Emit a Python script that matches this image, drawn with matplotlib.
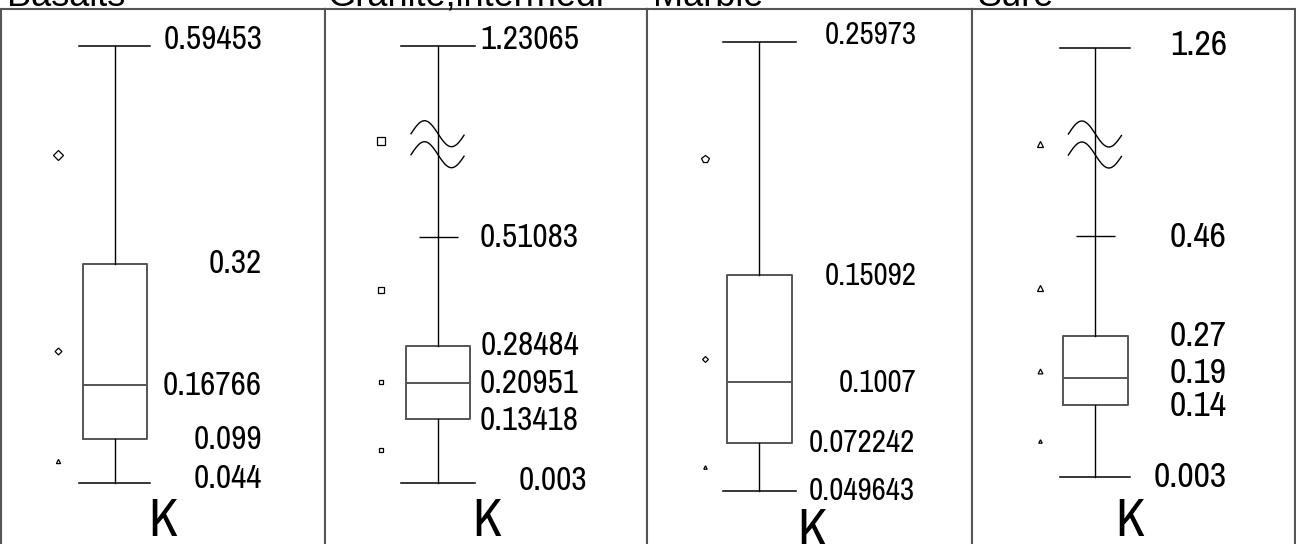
import matplotlib
matplotlib.use('Agg')
import matplotlib.pyplot as plt
import matplotlib.transforms as mtransforms
from matplotlib import font_manager
import numpy as np

# ---- data ----
titles = ['Basalts', 'Granite,intermedi', 'Marble', 'Sure']
xlabel = 'K'

basalt_box = dict(whislo=0.044, q1=0.099, med=0.16766, q3=0.32, whishi=0.59453)
basalt_fliers = [0.4572, 0.2103, 0.0717]
basalt_labels = ['0.59453', '0.32', '0.16766', '0.099', '0.044']

granite_box = dict(whislo=0.003, q1=0.13418, med=0.20951, q3=0.28484, whishi=1.23065)
granite_mid = 0.51083
granite_fliers = [0.763, 0.4014, 0.2115, 0.0711]
granite_labels = ['1.23065', '0.51083', '0.28484', '0.20951', '0.13418', '0.003']

marble_box = dict(whislo=0.049643, q1=0.072242, med=0.1007, q3=0.15092, whishi=0.25973)
marble_fliers = [0.205, 0.1114, 0.0609]
marble_labels = ['0.25973', '0.15092', '0.1007', '0.072242', '0.049643']

sure_box = dict(whislo=0.003, q1=0.14, med=0.19, q3=0.27, whishi=1.26)
sure_mid = 0.46
sure_fliers = [0.714, 0.3614, 0.204, 0.0713]
sure_labels = ['1.26', '0.46', '0.27', '0.19', '0.14', '0.003']

# narrow font if there is one, else plain Liberation Sans a bit smaller
have = {f.name for f in font_manager.fontManager.ttflist}
NARROW, nscale = 'Liberation Sans', 0.82
for cand in ('Liberation Sans Narrow', 'Arial Narrow', 'Archivo Narrow'):
    if cand in have:
        NARROW, nscale = cand, 1.1
        break
REG = ['Liberation Sans', 'DejaVu Sans']


def break_scale(lo, k):
    # compress everything above lo by factor k (axis break)
    def fwd(v):
        v = np.asarray(v, dtype=float)
        return np.where(v <= lo, v, lo + (v - lo) * k)

    def inv(t):
        t = np.asarray(t, dtype=float)
        return np.where(t <= lo, t, lo + (t - lo) / k)
    return fwd, inv


fig = plt.figure(figsize=(12.96, 5.44), dpi=100)
W, H = 1296.0, 544.0
top_px = 9

panels = [
    dict(box=basalt_box, mid=None, fliers=basalt_fliers, labels=basalt_labels,
         x0=1, x1=325, ylim=(-0.0328, 0.6411), brk=None,
         cx=0.351, bw=0.197, cw=0.218, fx=0.175, lx=0.806, fs=21.8,
         marks=[('D', 5.5), ('D', 3.5), ('^', 3.0)],
         offs=[(0, 6), (0, 0), (0, -1), (0, -1), (0, 4)], kx=0.50, ky=0.015),
    dict(box=granite_box, mid=granite_mid, fliers=granite_fliers, labels=granite_labels,
         x0=325, x1=647, ylim=(-0.1229, 1.4125), brk=(0.6698, 0.4197, 0.745),
         cx=0.351, bw=0.199, cw=0.227, fx=0.174, lx=0.789, fs=21.8,
         marks=[('s', 5.5), ('s', 5.0), ('s', 3.5), ('s', 3.2)],
         offs=[(0, 6), (0, -1), (0, 0), (0, -1), (0, -2), (8, 2)], kx=0.503, ky=0.015),
    dict(box=marble_box, mid=None, fliers=marble_fliers, labels=marble_labels,
         x0=647, x1=972, ylim=(0.02484, 0.27517), brk=None,
         cx=0.346, bw=0.200, cw=0.225, fx=0.178, lx=0.830, fs=20.3,
         marks=[('p', 5.5), ('D', 3.0), ('^', 2.5)],
         offs=[(0, 7), (0, -1), (0, -1), (-2, 0), (-2, 0)], kx=0.508, ky=-0.004),
    dict(box=sure_box, mid=sure_mid, fliers=sure_fliers, labels=sure_labels,
         x0=972, x1=1295, ylim=(-0.124, 1.482), brk=(0.5946, 0.3333, 0.7083),
         cx=0.382, bw=0.201, cw=0.217, fx=0.211, lx=0.789, fs=23.4,
         marks=[('^', 5.0), ('^', 5.0), ('^', 3.5), ('^', 2.5)],
         offs=[(0, 3), (0, -1), (0, 0), (0, 5), (0, -1), (0, 0)], kx=0.489, ky=0.015),
]

frame_col = '#555555'
box_col = '#555555'

for i, p in enumerate(panels):
    ax = fig.add_axes([p['x0'] / W, 0, (p['x1'] - p['x0']) / W, (H - top_px) / H])
    if p['brk'] is not None:
        ax.set_yscale('function', functions=break_scale(p['brk'][0], p['brk'][1]))
    ax.set_xlim(0, 1)
    ax.set_ylim(*p['ylim'])
    ax.set_xticks([])
    ax.set_yticks([])
    ax.minorticks_off()
    for s in ('top', 'left', 'right'):
        ax.spines[s].set_color(frame_col)
        ax.spines[s].set_linewidth(1.5)
    ax.spines['bottom'].set_visible(False)

    st = dict(p['box'])
    st['fliers'] = []
    ax.bxp([st], positions=[p['cx']], widths=p['bw'], capwidths=p['cw'],
           showfliers=False,
           boxprops=dict(color=box_col, linewidth=1.4),
           medianprops=dict(color=box_col, linewidth=1.4),
           whiskerprops=dict(color='black', linewidth=1.0),
           capprops=dict(color='black', linewidth=1.1))
    ax.set_xticks([])
    ax.set_xlim(0, 1)

    if p['mid'] is not None:
        ax.hlines(p['mid'], p['cx'] - 0.0605, p['cx'] + 0.0605, color='black', linewidth=1.0)

    for v, (m, ms) in zip(p['fliers'], p['marks']):
        ax.plot([p['fx']], [v], marker=m, markersize=ms, markerfacecolor='white',
                markeredgecolor='black', markeredgewidth=0.9, linestyle='none')

    # value labels
    vals = [p['box']['whishi']]
    if p['mid'] is not None:
        vals.append(p['mid'])
    vals += [p['box']['q3'], p['box']['med'], p['box']['q1'], p['box']['whislo']]
    for txt, v, (dx, dy) in zip(p['labels'], vals, p['offs']):
        ax.annotate(txt, xy=(p['lx'], v), xycoords=('axes fraction', 'data'),
                    xytext=(dx, dy), textcoords='offset pixels',
                    ha='right', va='center', fontsize=p['fs'] * nscale, family=NARROW)

    # axis break symbol
    if p['brk'] is not None:
        bx, by = ax.transData.transform((p['cx'], p['brk'][2]))
        dxs = np.linspace(-27, 26, 80)
        for off in (11, -10):
            ax.plot(bx + dxs, by + off + 13 * np.sin(-np.pi * dxs / 27),
                    transform=mtransforms.IdentityTransform(),
                    color='black', linewidth=1.0, clip_on=False)

    ax.text(p['kx'], p['ky'], xlabel, transform=ax.transAxes, ha='center',
            va='baseline', fontsize=38, family=NARROW)

# titles, cut off by the top of the picture
title_x = [7, 327, 653, 977]
for t, x in zip(titles, title_x):
    fig.text(x / W, 1 - 6 / H, t, ha='left', va='baseline', fontsize=26, family=REG)

fig.savefig('out.png', dpi=100)
